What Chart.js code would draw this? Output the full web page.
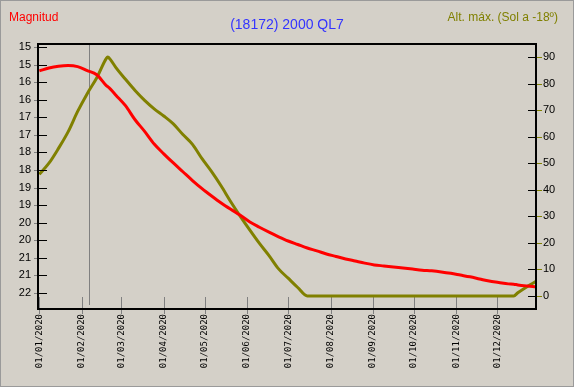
<!DOCTYPE html>
<html><head><meta charset="utf-8">
<script src="https://cdn.jsdelivr.net/npm/chart.js@4/dist/chart.umd.min.js"></script>
<style>
html,body{margin:0;padding:0;background:#D4D0C8;}
#wrap{position:relative;width:574px;height:387px;background:#D4D0C8;overflow:hidden;}
#c{position:absolute;left:0;top:0;}
.t{position:absolute;font-family:"Liberation Sans",Arial,sans-serif;white-space:nowrap;line-height:1;}
#frame{position:absolute;left:0;top:0;width:572px;height:385px;border:1px solid #9a9a9a;pointer-events:none;}
</style></head><body>
<div id="wrap">
<canvas id="c" width="574" height="387"></canvas>
<div class="t" style="left:9px;top:11px;font-size:12px;color:#ff0000">Magnitud</div>
<div class="t" style="left:0;width:574px;text-align:center;top:17px;font-size:14px;color:#3333ff">(18172) 2000 QL7</div>
<div class="t" style="right:16px;top:11px;font-size:12px;color:#808000">Alt. máx. (Sol a -18º)</div>
<div id="frame"></div>
</div>
<script>
// ---- data ----
const dates = ['2020-01-01','2020-01-08','2020-01-15','2020-01-22','2020-01-29','2020-02-05','2020-02-12','2020-02-19','2020-02-20','2020-02-22','2020-02-26',
 '2020-03-04','2020-03-11','2020-03-18','2020-03-25','2020-04-01','2020-04-08','2020-04-15','2020-04-22','2020-04-29','2020-05-06','2020-05-13','2020-05-20','2020-05-27',
 '2020-06-03','2020-06-10','2020-06-17','2020-06-24','2020-07-01','2020-07-08','2020-07-15','2020-07-22','2020-07-29','2020-08-05','2020-08-12','2020-08-19','2020-08-26',
 '2020-09-02','2020-09-09','2020-09-16','2020-09-23','2020-09-30','2020-10-07','2020-10-14','2020-10-21','2020-10-28','2020-11-04','2020-11-11','2020-11-18','2020-11-25',
 '2020-12-02','2020-12-09','2020-12-13','2020-12-16','2020-12-23','2020-12-29'];
const magnitude = [15.68,15.60,15.55,15.53,15.56,15.67,15.79,16.10,16.13,16.20,16.37,
 16.67,17.07,17.40,17.76,18.04,18.30,18.55,18.80,19.03,19.24,19.44,19.62,19.79,
 19.98,20.13,20.27,20.40,20.52,20.62,20.72,20.80,20.89,20.96,21.03,21.09,21.15,
 21.20,21.23,21.26,21.29,21.32,21.35,21.37,21.40,21.44,21.49,21.54,21.60,21.66,
 21.70,21.74,21.75,21.77,21.80,21.82];
const altitude = [45.8,50.0,55.6,61.8,69.5,76.2,82.2,89.5,90.0,89.0,86.0,
 81.6,77.4,73.7,70.5,67.8,64.8,60.8,57.1,51.7,46.8,41.4,35.5,30.0,
 24.8,19.8,15.2,10.2,6.7,3.2,0,0,0,0,0,0,0,
 0,0,0,0,0,0,0,0,0,0,0,0,0,
 0,0,0,1.2,3.6,5.4];
const monthTickDates = ['2020-01-01','2020-02-01','2020-03-01','2020-04-01','2020-05-01','2020-06-01','2020-07-01','2020-08-01','2020-09-01','2020-10-01','2020-11-01','2020-12-01'];
const monthTickLabels = ['01/01/2020','01/02/2020','01/03/2020','01/04/2020','01/05/2020','01/06/2020','01/07/2020','01/08/2020','01/09/2020','01/10/2020','01/11/2020','01/12/2020'];
const magTickValues = [15,15.5,16,16.5,17,17.5,18,18.5,19,19.5,20,20.5,21,21.5,22];
const magTickLabels = ['15','15','16','16','17','17','18','18','19','19','20','20','21','21','22'];
const altTickValues = [0,10,20,30,40,50,60,70,80,90];
const altTickLabels = ['0','10','20','30','40','50','60','70','80','90'];
const markerDate = '2020-02-06';

const dayOf = s => { const [y,m,d] = s.split('-').map(Number); return (Date.UTC(y,m-1,d) - Date.UTC(2020,0,1)) / 86400000; };
const days = dates.map(dayOf);
const monthTickDays = monthTickDates.map(dayOf);

const decor = {
  id: 'decor',
  beforeDatasetsDraw(chart) {
    const {ctx, chartArea: a, scales} = chart;
    ctx.save();
    ctx.strokeStyle = '#808080'; ctx.lineWidth = 1;
    const mx = Math.round(scales.x.getPixelForValue(dayOf(markerDate))) + 0.5;
    ctx.beginPath(); ctx.moveTo(mx, a.top + 1); ctx.lineTo(mx, a.bottom - 4); ctx.stroke();
    monthTickDays.forEach(d => {
      const x = Math.round(scales.x.getPixelForValue(d)) + 0.5;
      ctx.beginPath(); ctx.moveTo(x, a.bottom - 12); ctx.lineTo(x, a.bottom + 5); ctx.stroke();
    });
    ctx.restore();
  },
  afterDatasetsDraw(chart) {
    const {ctx, chartArea: a, scales} = chart;
    ctx.save();
    ctx.lineWidth = 1;
    magTickValues.forEach(v => {
      const y = Math.round(scales.yMag.getPixelForValue(v)) + 0.5;
      ctx.strokeStyle = '#000'; ctx.beginPath(); ctx.moveTo(a.left, y); ctx.lineTo(a.left + 9, y); ctx.stroke();
      ctx.strokeStyle = '#808080'; ctx.beginPath(); ctx.moveTo(a.left - 4, y); ctx.lineTo(a.left, y); ctx.stroke();
    });
    altTickValues.forEach(v => {
      const y = Math.round(scales.yAlt.getPixelForValue(v)) + 0.5;
      ctx.strokeStyle = '#000'; ctx.beginPath(); ctx.moveTo(a.right - 8, y); ctx.lineTo(a.right, y); ctx.stroke();
      ctx.strokeStyle = '#808000'; ctx.beginPath(); ctx.moveTo(a.right, y); ctx.lineTo(a.right + 6, y); ctx.stroke();
    });
    ctx.strokeStyle = '#000'; ctx.lineWidth = 2;
    ctx.strokeRect(a.left, a.top, a.right - a.left, a.bottom - a.top);
    ctx.restore();
  }
};

new Chart(document.getElementById('c'), {
  type: 'line',
  data: {
    datasets: [
      { label: 'Magnitud', data: days.map((d,i) => ({x: d, y: magnitude[i]})), yAxisID: 'yMag',
        borderColor: '#ff0000', borderWidth: 3, pointRadius: 0, cubicInterpolationMode: 'monotone', fill: false },
      { label: 'Alt. máx.', data: days.map((d,i) => ({x: d, y: altitude[i]})), yAxisID: 'yAlt',
        borderColor: '#808000', borderWidth: 3, pointRadius: 0, cubicInterpolationMode: 'monotone', fill: false }
    ]
  },
  options: {
    responsive: false, animation: false, events: [],
    layout: { padding: { top: 44, left: 0, right: 0, bottom: 0 } },
    plugins: { legend: { display: false }, tooltip: { enabled: false }, title: { display: false } },
    scales: {
      x: {
        type: 'linear', min: -1, max: 363.3,
        grid: { display: false, drawTicks: false }, border: { display: false },
        afterBuildTicks: s => { s.ticks = monthTickDays.map(v => ({value: v})); },
        afterFit: s => { s.height = 78; },
        ticks: { autoSkip: false, minRotation: 90, maxRotation: 90, padding: 5, color: '#000',
          font: { family: '"DejaVu Sans Mono", monospace', size: 9 },
          callback: (v, i) => monthTickLabels[i] }
      },
      yMag: {
        type: 'linear', position: 'left', reverse: true, min: 14.915, max: 22.455,
        grid: { display: false, drawTicks: false }, border: { display: false },
        afterBuildTicks: s => { s.ticks = magTickValues.map(v => ({value: v})); },
        afterFit: s => { s.width = 38; },
        ticks: { padding: 7, color: '#000', font: { family: '"Liberation Sans", Arial, sans-serif', size: 11 },
          callback: (v, i) => magTickLabels[i] }
      },
      yAlt: {
        type: 'linear', position: 'right', min: -4.9, max: 94.9,
        grid: { display: false, drawTicks: false }, border: { display: false },
        afterBuildTicks: s => { s.ticks = altTickValues.map(v => ({value: v})); },
        afterFit: s => { s.width = 38; },
        ticks: { padding: 7, color: '#000', font: { family: '"Liberation Sans", Arial, sans-serif', size: 11 },
          callback: (v, i) => altTickLabels[i] }
      }
    }
  },
  plugins: [decor]
});
</script>
</body></html>
